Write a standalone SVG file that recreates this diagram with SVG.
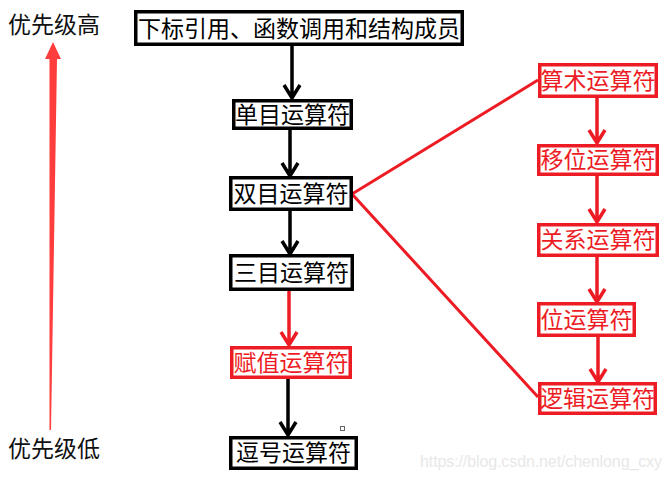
<svg xmlns="http://www.w3.org/2000/svg" width="672" height="478" viewBox="0 0 672 478">
<style>
text{font-family:"Noto Sans CJK SC","Microsoft YaHei",sans-serif;font-size:23px;text-anchor:middle;dominant-baseline:central}
.bk rect{fill:#fff;stroke:#000;stroke-width:3.5}
.rd rect{fill:#fff;stroke:#ed1c24;stroke-width:3.5}
.bk text{fill:#000}
.rd text{fill:#ed1c24}
.lb{fill:#111;text-anchor:start}
.cb{stroke:#000;stroke-width:3.5;fill:none}
.cr{stroke:#ed1c24;stroke-width:3.5;fill:none}
.ln{stroke:#ed1c24;stroke-width:3;fill:none}
</style>
<rect width="672" height="478" fill="#fff"/>
<g id="connectors">
<path class="cb" d="M292 46V98M284 85L292 98L300 85"/>
<path class="cb" d="M290 130V176M282 163L290 176L298 163"/>
<path class="cb" d="M290 211V254M282 241L290 254L298 241"/>
<path class="cr" d="M289 291V345M281 332L289 345L297 332"/>
<path class="cb" d="M288 379V435M280 422L288 435L296 422"/>
<path class="cr" d="M597 98V143M589 130L597 143L605 130"/>
<path class="cr" d="M597 176V222M589 209L597 222L605 209"/>
<path class="cr" d="M597 257V302M589 289L597 302L605 289"/>
<path class="cr" d="M598 337V382M590 369L598 382L606 369"/>
<path class="ln" d="M538 80L352 194L538 397"/>
</g>
<g id="priority-arrow">
<polygon points="53,42 61,59 57,59 51,430 49.5,430 49.5,59 45,59" fill="#ff3d3d"/>
</g>
<g id="label-high"><text class="lb" x="8" y="23">优先级高</text></g>
<g id="label-low"><text class="lb" x="8" y="447">优先级低</text></g>
<g id="n-top" class="bk"><rect x="135.75" y="11.75" width="326.5" height="32.5"/><text x="299" y="26.5">下标引用、函数调用和结构成员</text></g>
<g id="n-unary" class="bk"><rect x="233.75" y="100.75" width="117.5" height="27.5"/><text x="292.5" y="112.5">单目运算符</text></g>
<g id="n-binary" class="bk"><rect x="230.75" y="177.75" width="120.5" height="31.5"/><text x="291" y="191.5">双目运算符</text></g>
<g id="n-ternary" class="bk"><rect x="230.75" y="255.75" width="121.5" height="33.5"/><text x="291.5" y="270.5">三目运算符</text></g>
<g id="n-assign" class="rd"><rect x="231.75" y="347.75" width="118.5" height="29.5"/><text x="291" y="360.5">赋值运算符</text></g>
<g id="n-comma" class="bk"><rect x="230.75" y="437.75" width="125.5" height="30.5"/><text x="293.5" y="451">逗号运算符</text></g>
<g id="n-arith" class="rd"><rect x="539.75" y="64.75" width="116.5" height="31.5"/><text x="598" y="78.5">算术运算符</text></g>
<g id="n-shift" class="rd"><rect x="538.75" y="145.75" width="118.5" height="28.5"/><text x="598" y="158">移位运算符</text></g>
<g id="n-rel" class="rd"><rect x="538.75" y="224.75" width="118.5" height="30.5"/><text x="598" y="238">关系运算符</text></g>
<g id="n-bit" class="rd"><rect x="538.75" y="303.75" width="95.5" height="31.5"/><text x="586.5" y="317.5">位运算符</text></g>
<g id="n-logic" class="rd"><rect x="539.75" y="383.75" width="115.5" height="29.5"/><text x="597.5" y="396.5">逻辑运算符</text></g>
<rect x="340.5" y="426.5" width="4" height="4" fill="#fff" stroke="#666" stroke-width="1"/>
<text x="420" y="461" style="font-family:'Liberation Sans',Arial,sans-serif;font-size:16px;fill:#e8e8e8;text-anchor:start" textLength="242">https://blog.csdn.net/chenlong_cxy</text>
</svg>
